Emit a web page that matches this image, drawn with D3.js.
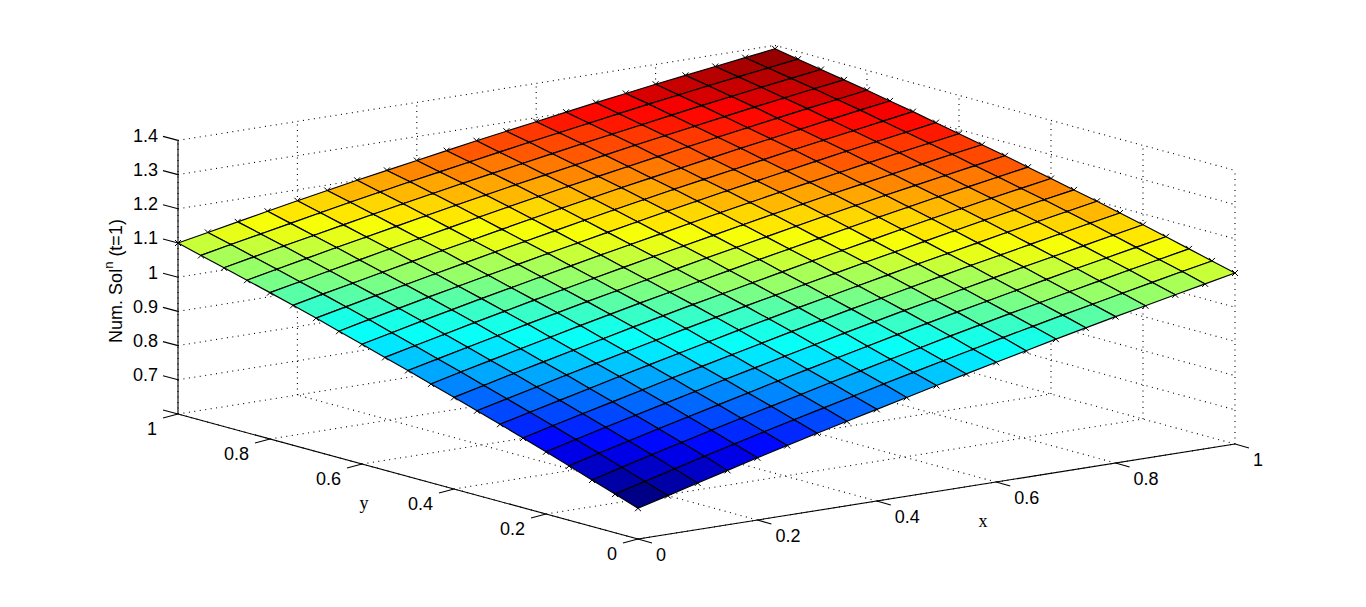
<!DOCTYPE html>
<html><head><meta charset="utf-8">
<style>html,body{margin:0;padding:0;background:#fff;overflow:hidden}svg{display:block}</style>
<script src="https://cdn.jsdelivr.net/npm/d3@7/dist/d3.min.js"></script>
</head><body><svg id="c" width="1366" height="607"></svg>
<script>
// Mesh nodes along each horizontal axis
const gridX = [0,0.05,0.1,0.15,0.2,0.25,0.3,0.35,0.4,0.45,0.5,0.55,0.6,0.65,0.7,0.75,0.8,0.85,0.9,0.95,1];
const gridY = [0,0.05,0.1,0.15,0.2,0.25,0.3,0.35,0.4,0.45,0.5,0.55,0.6,0.65,0.7,0.75,0.8,0.85,0.9,0.95,1];
// Surface height, indexed by (x index + y index)
const heightByIndexSum = [0.690,0.713,0.736,0.759,0.782,0.804,0.826,0.847,0.868,0.889,0.910,0.930,0.950,0.970,0.990,1.009,1.028,1.046,1.064,1.082,1.100,1.117,1.134,1.151,1.168,1.184,1.200,1.215,1.230,1.245,1.260,1.274,1.288,1.302,1.316,1.329,1.342,1.354,1.366,1.378,1.390];
const colorRange = [0.690,1.380];
const xTicks = [0,0.2,0.4,0.6,0.8,1];
const yTicks = [0,0.2,0.4,0.6,0.8,1];
const zTicks = [0.7,0.8,0.9,1,1.1,1.2,1.3,1.4];
const zLabels = ["0.7","0.8","0.9","1","1.1","1.2","1.3","1.4"];

const svg = d3.select("#c");
// Orthographic projection: each data axis contributes a screen offset
const sxX = d3.scaleLinear().domain([0,1]).range([0,597]);
const sxY = d3.scaleLinear().domain([0,1]).range([0,-95]);
const syX = d3.scaleLinear().domain([0,1]).range([0,-460]);
const syY = d3.scaleLinear().domain([0,1]).range([0,-125]);
const sz = d3.scaleLinear().domain([0.6,1.4]).range([0,-273.6]);
const O = [638,539];
const P = (x,y,z) => [O[0]+sxX(x)+syX(y), O[1]+sxY(x)+syY(y)+sz(z)];
const line = d3.line();

const jet = t => {
  const q = Math.max(0,Math.min(63,Math.floor(t*64)));
  const u = (q+0.5)/64;
  const c = v => Math.round(255*Math.max(0,Math.min(1,v)));
  return d3.rgb(c(Math.min(4*u-1.5,-4*u+4.5)), c(Math.min(4*u-0.5,-4*u+3.5)), c(Math.min(4*u+0.5,-4*u+2.5))).toString();
};
const color = d3.scaleLinear().domain(colorRange).range([0,0.9999]);

const grid = svg.append("g").attr("fill","none").attr("stroke","#000").attr("stroke-width",1.1).attr("stroke-dasharray","1 4.5");
const seg = (g,a,b) => g.append("path").attr("d",line([a,b]));
const zMin = 0.6, zMax = 1.4;
// floor
xTicks.forEach(t => seg(grid,P(t,0,zMin),P(t,1,zMin)));
yTicks.forEach(t => seg(grid,P(0,t,zMin),P(1,t,zMin)));
// back walls
zTicks.forEach(z => { seg(grid,P(0,1,z),P(1,1,z)); seg(grid,P(1,1,z),P(1,0,z)); });
xTicks.forEach(t => seg(grid,P(t,1,zMin),P(t,1,zMax)));
yTicks.forEach(t => seg(grid,P(1,t,zMin),P(1,t,zMax)));

// axis lines
const ax = svg.append("g").attr("fill","none").attr("stroke","#000").attr("stroke-width",1.1);
seg(ax,P(0,1,zMin),P(0,1,zMax));
seg(ax,P(0,0,zMin),P(0,1,zMin));
seg(ax,P(0,0,zMin),P(1,0,zMin));
const tick = (p,d) => seg(ax,p,[p[0]+d[0],p[1]+d[1]]);
[0.6,...zTicks].forEach(z => tick(P(0,1,z),[-15,-4]));
xTicks.forEach(t => tick(P(t,0,zMin),[14,4]));
yTicks.forEach(t => tick(P(0,t,zMin),[-15,4]));

// node crosses, beneath the faces so that only the outer part shows on the rim
const cross = (g,p,r) => g.append("path").attr("d",`M${p[0]-r},${p[1]-r}L${p[0]+r},${p[1]+r}M${p[0]-r},${p[1]+r}L${p[0]+r},${p[1]-r}`);
const under = svg.append("g").attr("stroke","#000").attr("stroke-width",1).attr("fill","none");
gridX.forEach((x,i)=>gridY.forEach((y,j)=>{
  if(i===0||j===0||i===20||j===20) cross(under,P(x,y,heightByIndexSum[i+j]),3);
}));

// faces, back to front
const faces = svg.append("g").attr("stroke","#000").attr("stroke-width",1.15).attr("stroke-linejoin","round");
const cells = [];
d3.range(gridX.length-1).forEach(i=>d3.range(gridY.length-1).forEach(j=>cells.push([i,j])));
cells.sort((a,b)=>(b[0]+b[1])-(a[0]+a[1]));
faces.selectAll("path").data(cells).join("path")
  .attr("fill",d=>jet(color(heightByIndexSum[d[0]+d[1]])))
  .attr("d",([i,j])=>line([
    P(gridX[i],gridY[j],heightByIndexSum[i+j]),
    P(gridX[i+1],gridY[j],heightByIndexSum[i+j+1]),
    P(gridX[i+1],gridY[j+1],heightByIndexSum[i+j+2]),
    P(gridX[i],gridY[j+1],heightByIndexSum[i+j+1])
  ])+"Z");
// small crosses visible at interior nodes
const over = svg.append("g").attr("stroke","#000").attr("stroke-width",1).attr("fill","none");
gridX.forEach((x,i)=>gridY.forEach((y,j)=>{
  if(i>0&&j>0&&i<20&&j<20) cross(over,P(x,y,heightByIndexSum[i+j]),1.5);
}));

// labels
const txt = svg.append("g").attr("font-family","'Liberation Sans',Arial,sans-serif").attr("font-size",18).attr("fill","#000");
zTicks.forEach((z,k)=>{
  const p=P(0,1,z);
  txt.append("text").attr("x",p[0]-20).attr("y",p[1]-5).attr("dy","0.36em").attr("text-anchor","end").text(zLabels[k]);
});
xTicks.forEach(t=>{
  const p=P(t,0,zMin);
  txt.append("text").attr("x",p[0]+18).attr("y",p[1]+16).attr("dy","0.36em").attr("text-anchor","start").text(d3.format("~g")(t));
});
yTicks.forEach(t=>{
  const p=P(0,t,zMin);
  txt.append("text").attr("x",p[0]-21).attr("y",p[1]+14.5).attr("dy","0.36em").attr("text-anchor","end").text(d3.format("~g")(t));
});
const serif="'Liberation Serif','Times New Roman',serif";
txt.append("text").attr("x",983).attr("y",527).attr("text-anchor","middle").attr("font-family",serif).text("x");
txt.append("text").attr("x",364).attr("y",509).attr("text-anchor","middle").attr("font-family",serif).text("y");
const zl = txt.append("text").attr("transform","translate(122,281) rotate(-90)").attr("text-anchor","middle");
zl.append("tspan").text("Num. Sol");
zl.append("tspan").attr("dy",-9).attr("font-size",13).text("n");
zl.append("tspan").attr("dy",9).text(" (t=1)");
</script></body></html>
